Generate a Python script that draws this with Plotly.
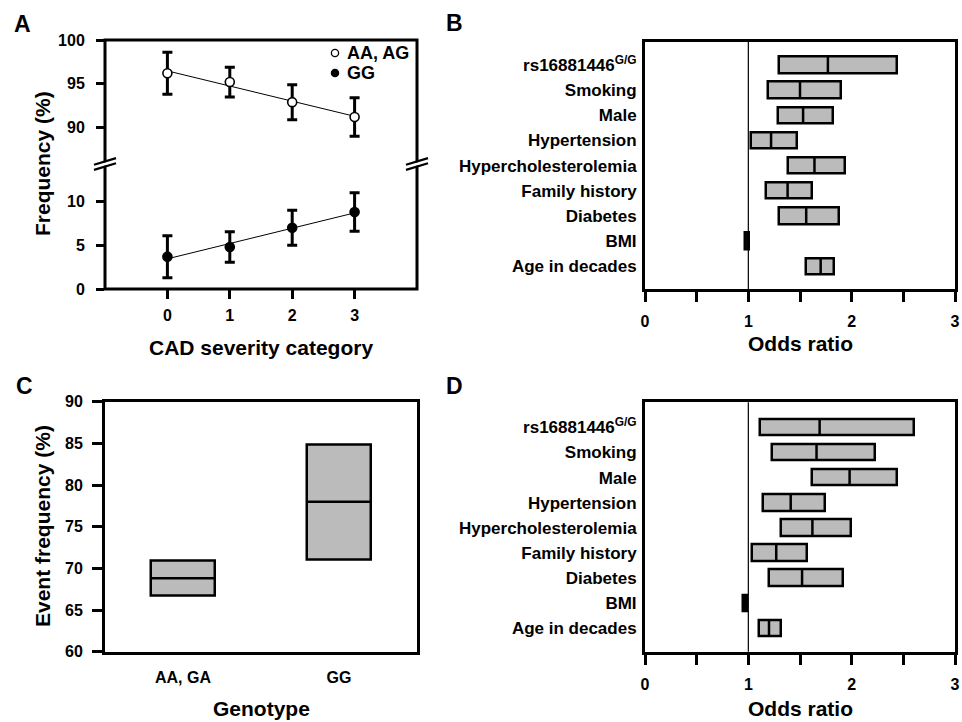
import numpy as np
import plotly.graph_objects as go

# ---------------- data ----------------
# Panel A
cad_category = [0, 1, 2, 3]
freq_aa_ag = [96.2, 95.2, 92.9, 91.2]
err_aa_ag = [2.4, 1.7, 2.0, 2.2]
freq_gg = [3.7, 4.8, 7.0, 8.8]
err_gg = [2.4, 1.75, 2.0, 2.2]

# Panels B / D (top to bottom)
factors = ["rs16881446<sup>G/G</sup>", "Smoking", "Male", "Hypertension",
           "Hypercholesterolemia", "Family history", "Diabetes", "BMI",
           "Age in decades"]
b_low = [1.30, 1.19, 1.29, 1.03, 1.38, 1.17, 1.30, 0.97, 1.56]
b_mid = [1.77, 1.50, 1.53, 1.22, 1.64, 1.38, 1.56, 0.99, 1.70]
b_high = [2.44, 1.90, 1.82, 1.47, 1.94, 1.62, 1.88, 1.01, 1.83]

d_low = [1.11, 1.23, 1.62, 1.14, 1.32, 1.04, 1.20, 0.95, 1.10]
d_mid = [1.69, 1.66, 1.98, 1.41, 1.62, 1.27, 1.52, 0.97, 1.20]
d_high = [2.60, 2.23, 2.44, 1.74, 1.99, 1.57, 1.92, 0.99, 1.32]

# Panel C
genotypes = ["AA, GA", "GG"]
c_low = [66.7, 71.1]
c_mid = [68.8, 78.0]
c_high = [70.9, 84.8]

# odds-ratio axis ticks
or_major = [0, 1, 2, 3]

# ---------------- style helpers ----------------
W, H = 962, 722
FONT = "Liberation Sans, Arial, sans-serif"
GRAY = "#BBBBBB"


def px(x):
    return x / W


def py(y):
    return 1 - y / H


fig = go.Figure()

# ---------------- Panel A ----------------
fa = np.polyfit(cad_category, freq_aa_ag, 1)
fg = np.polyfit(cad_category, freq_gg, 1)
xs = np.array([cad_category[0], cad_category[-1]], dtype=float)

fig.add_trace(go.Scatter(x=xs, y=np.polyval(fa, xs), mode="lines",
                         line=dict(color="black", width=1), xaxis="x", yaxis="y2",
                         showlegend=False, hoverinfo="skip"))
fig.add_trace(go.Scatter(x=cad_category, y=freq_aa_ag, mode="markers",
                         marker=dict(symbol="circle", size=9, color="white",
                                     line=dict(color="black", width=1.6)),
                         error_y=dict(type="data", array=err_aa_ag, color="black",
                                      thickness=3, width=5),
                         xaxis="x", yaxis="y2", name="AA, AG", showlegend=False))
fig.add_trace(go.Scatter(x=xs, y=np.polyval(fg, xs), mode="lines",
                         line=dict(color="black", width=1), xaxis="x", yaxis="y",
                         showlegend=False, hoverinfo="skip"))
fig.add_trace(go.Scatter(x=cad_category, y=freq_gg, mode="markers",
                         marker=dict(symbol="circle", size=9, color="black",
                                     line=dict(color="black", width=1.6)),
                         error_y=dict(type="data", array=err_gg, color="black",
                                      thickness=3, width=5),
                         xaxis="x", yaxis="y", name="GG", showlegend=False))


# ---------------- Panels B & D ----------------
def forest(low, mid, high, xa, ya):
    n = len(factors)
    idx = [n - 1 - i for i in range(n)]
    widths = [h - l for l, h in zip(low, high)]
    fig.add_trace(go.Bar(orientation="h", y=idx, x=widths, base=low, width=0.65,
                         marker=dict(color=GRAY, line=dict(color="black", width=2.5)),
                         xaxis=xa, yaxis=ya, showlegend=False))
    mx, my = [], []
    for i, m in zip(idx, mid):
        mx += [m, m, None]
        my += [i - 0.325, i + 0.325, None]
    fig.add_trace(go.Scatter(x=mx, y=my, mode="lines",
                             line=dict(color="black", width=2.5),
                             xaxis=xa, yaxis=ya, showlegend=False, hoverinfo="skip"))
    return idx


idx_b = forest(b_low, b_mid, b_high, "x2", "y3")
idx_d = forest(d_low, d_mid, d_high, "x4", "y5")

# ---------------- Panel C ----------------
cpos = list(range(len(genotypes)))
fig.add_trace(go.Bar(x=cpos, y=[h - l for l, h in zip(c_low, c_high)], base=c_low,
                     width=0.405,
                     marker=dict(color=GRAY, line=dict(color="black", width=2.5)),
                     xaxis="x3", yaxis="y4", showlegend=False))
cx, cy = [], []
for p, m in zip(cpos, c_mid):
    cx += [p - 0.2025, p + 0.2025, None]
    cy += [m, m, None]
fig.add_trace(go.Scatter(x=cx, y=cy, mode="lines", line=dict(color="black", width=2.5),
                         xaxis="x3", yaxis="y4", showlegend=False, hoverinfo="skip"))

# ---------------- axes ----------------
tickfont = dict(family=FONT, size=16, color="black", weight="bold")
base_ax = dict(showgrid=False, zeroline=False, tickfont=tickfont, linecolor="black",
               tickcolor="black", automargin=False)

xA = [px(105), px(417)]
xB = [px(645), px(955)]
yA_low = [py(289), py(164)]
yA_up = [py(164), py(40)]
yB = [py(289), py(41.5)]
yC = [py(651.7), py(401.7)]
yD = [py(651.7), py(402.3)]

or_axis = dict(range=[0, 3], tickvals=or_major, ticks="outside", ticklen=10,
               tickwidth=2.5, showline=True, linewidth=3, mirror=True,
               ticklabelstandoff=6, ticklabeloverflow="allow",
               minor=dict(dtick=0.5, tick0=0, ticks="outside", ticklen=10, tickwidth=2.5,
                          tickcolor="black", showgrid=False))

fig.update_layout(
    width=W, height=H, margin=dict(l=0, r=0, t=0, b=0, pad=0), autosize=False,
    paper_bgcolor="white", plot_bgcolor="white",
    font=dict(family=FONT, color="black", weight="bold"),
    bargap=0,
    # Panel A
    xaxis=dict(base_ax, domain=xA, anchor="y", range=[-1, 4], tickvals=cad_category,
               ticks="outside", ticklen=9, tickwidth=3, showline=False,
               ticklabelstandoff=3),
    yaxis=dict(base_ax, domain=yA_low, anchor="x", range=[0, 14.29], tickvals=[0, 5, 10],
               ticks="outside", ticklen=8, tickwidth=3, showline=False,
               ticklabelstandoff=8),
    yaxis2=dict(base_ax, domain=yA_up, anchor="x", range=[85.83, 100],
                tickvals=[90, 95, 100], ticks="outside", ticklen=8, tickwidth=3,
                showline=False, ticklabelstandoff=8),
    # Panel B
    xaxis2=dict(base_ax, domain=xB, anchor="y3", **or_axis),
    yaxis3=dict(base_ax, domain=yB, anchor="x2", range=[-0.9, 8.93], tickvals=idx_b,
                ticktext=factors, ticks="", showline=True, linewidth=3, mirror=True,
                tickfont=dict(tickfont, size=17), ticklabelstandoff=2),
    # Panel C
    xaxis3=dict(base_ax, domain=xA, anchor="y4", range=[-0.5, 1.5], tickvals=cpos,
                ticktext=genotypes, ticks="", showline=True, linewidth=3, mirror=True,
                ticklabelstandoff=9),
    yaxis4=dict(base_ax, domain=yC, anchor="x3", range=[60, 90], dtick=5,
                ticks="outside", ticklen=10, tickwidth=3, showline=True, linewidth=3,
                mirror=True, ticklabelstandoff=6),
    # Panel D
    xaxis4=dict(base_ax, domain=xB, anchor="y5", **or_axis),
    yaxis5=dict(base_ax, domain=yD, anchor="x4", range=[-0.94, 9.0], tickvals=idx_d,
                ticktext=factors, ticks="", showline=True, linewidth=3, mirror=True,
                tickfont=dict(tickfont, size=17), ticklabelstandoff=2),
)

shapes = []
# Panel A frame (continuous across the break)
shapes.append(dict(type="rect", xref="x domain", yref="paper", x0=0, x1=1,
                   y0=yA_low[0], y1=yA_up[1], line=dict(color="black", width=3),
                   fillcolor="rgba(0,0,0,0)", layer="above"))
# axis break marks
for xc in (105, 417):
    shapes.append(dict(type="line", xref="paper", yref="paper",
                       x0=px(xc - 11), y0=py(167.3), x1=px(xc + 11), y1=py(160.7),
                       line=dict(color="white", width=3), layer="above"))
    for dy in (-2.6, 2.6):
        shapes.append(dict(type="line", xref="paper", yref="paper",
                           x0=px(xc - 11), y0=py(167.3 + dy), x1=px(xc + 11),
                           y1=py(160.7 + dy), line=dict(color="black", width=2.2),
                           layer="above"))
# reference lines at OR = 1
for xa, ya in (("x2", "y3"), ("x4", "y5")):
    shapes.append(dict(type="line", xref=xa, yref=ya + " domain", x0=1, x1=1, y0=0, y1=1,
                       line=dict(color="black", width=1.2), layer="below"))
# legend symbols for Panel A
for cyy, fill in ((53, "white"), (73, "black")):
    shapes.append(dict(type="circle", xref="paper", yref="paper",
                       x0=px(335 - 3.6), x1=px(335 + 3.6), y0=py(cyy + 3.6), y1=py(cyy - 3.6),
                       fillcolor=fill, line=dict(color="black", width=1.3), layer="above"))
fig.update_layout(shapes=shapes)

ann = []


def text(x, y, s, size, angle=0, xanchor="center"):
    ann.append(dict(x=px(x), y=py(y), xref="paper", yref="paper", text=s,
                    showarrow=False, textangle=angle, xanchor=xanchor, yanchor="middle",
                    font=dict(family=FONT, size=size, color="black", weight="bold")))


# panel letters
text(22, 24, "A", 23)
text(454, 23, "B", 23)
text(24, 386, "C", 23)
text(454, 386, "D", 23)
# axis titles
text(42, 164, "Frequency (%)", 21, angle=-90)
text(261, 347, "CAD severity category", 21)
text(800, 343, "Odds ratio", 21)
text(42, 526, "Event frequency (%)", 21, angle=-90)
text(261, 708, "Genotype", 21)
text(800, 708, "Odds ratio", 21)
# legend text
text(345, 53, "AA, AG", 18, xanchor="left")
text(345, 73, "GG", 18, xanchor="left")
fig.update_layout(annotations=ann)

post = (
    "var de=document.documentElement, b=document.body;"
    "de.style.margin='0';de.style.padding='0';de.style.overflow='hidden';"
    "b.style.margin='0';b.style.padding='0';b.style.overflow='hidden';"
)

fig.write_html("out.html", config={"displayModeBar": False}, post_script=post)
